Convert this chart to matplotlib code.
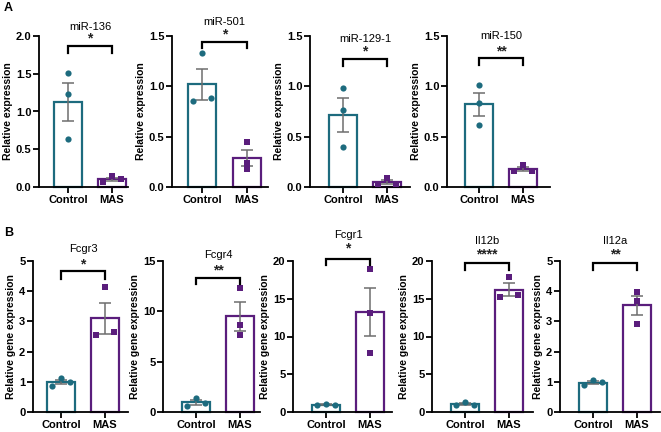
import numpy as np
import matplotlib
matplotlib.use("Agg")
import matplotlib.pyplot as plt

plt.rcParams['font.family'] = ['Liberation Sans', 'DejaVu Sans']

groups = ["Control", "MAS"]

# Panel A (miRNAs)
a_titles = ["miR-136", "miR-501", "miR-129-1", "miR-150"]
a_control = [[1.51, 1.23, 0.64], [1.33, 0.85, 0.88], [0.98, 0.76, 0.40], [1.01, 0.83, 0.62]]
a_mas = [[0.06, 0.14, 0.10], [0.45, 0.24, 0.18], [0.03, 0.09, 0.03], [0.16, 0.22, 0.16]]
a_ymax = [2.0, 1.5, 1.5, 1.5]
a_yticks = [[0.0, 0.5, 1.0, 1.5, 2.0], [0.0, 0.5, 1.0, 1.5], [0.0, 0.5, 1.0, 1.5], [0.0, 0.5, 1.0, 1.5]]
a_stars = ["*", "*", "*", "**"]

# Panel B (genes)
b_titles = ["Fcgr3", "Fcgr4", "Fcgr1", "Il12b", "Il12a"]
b_control = [[0.87, 1.13, 0.98], [0.60, 1.40, 0.93], [0.93, 1.06, 0.93], [0.88, 1.28, 0.88], [0.90, 1.05, 0.98]]
b_mas = [[4.13, 2.55, 2.64], [12.35, 8.60, 7.60], [18.9, 13.07, 7.77], [17.9, 15.2, 15.5], [3.99, 3.66, 2.93]]
b_ymax = [5, 15, 20, 20, 5]
b_yticks = [[0, 1, 2, 3, 4, 5], [0, 5, 10, 15], [0, 5, 10, 15, 20], [0, 5, 10, 15, 20], [0, 1, 2, 3, 4, 5]]
b_stars = ["*", "**", "*", "****", "**"]

TEAL = "#1d6b7e"
PURPLE = "#5a1d7c"
W, H = 661, 432

fig = plt.figure(figsize=(W / 100, H / 100), dpi=100)

# layout in pixels: (yaxis_x, axis_end_x, control_tick_x, mas_tick_x)
a_layout = [(39, 128, 68, 112), (172, 268, 202, 247), (310, 410, 343, 387), (447, 550, 479, 523)]
b_layout = [(33, 128, 61, 105), (163, 260, 196, 240), (293, 392, 326, 370), (432, 533, 465, 509), (560, 660, 593, 637)]

# bracket top / bracket legs / star / title positions (fractions of ymax)
a_br = [(0.934, 0.887, 0.985, 1.06), (0.96, 0.92, 1.01, 1.09), (0.848, 0.80, 0.895, 0.98), (0.854, 0.808, 0.90, 1.0)]
b_br = [(0.934, 0.88, 0.98, 1.08), (0.887, 0.848, 0.94, 1.04), (1.013, 0.974, 1.085, 1.172),
        (0.987, 0.94, 1.04, 1.132), (0.987, 0.94, 1.04, 1.132)]


def swarm_x(center, vals, ymax):
    """Spread points that would overlap, GraphPad style."""
    v = np.asarray(vals, dtype=float)
    order = np.argsort(v)
    xs = np.full(len(v), float(center))
    thr = 0.035 * ymax
    clusters = [[order[0]]]
    for idx in order[1:]:
        if v[idx] - v[clusters[-1][-1]] < thr:
            clusters[-1].append(idx)
        else:
            clusters.append([idx])
    off = 0.21
    for cl in clusters:
        if len(cl) == 2:
            xs[cl[0]] = center - off
            xs[cl[1]] = center + off
        elif len(cl) == 3:
            xs[cl[0]] = center - off
            xs[cl[1]] = center + off
            xs[cl[2]] = center
    return xs


def draw(ax_px, top_px, bottom_px, ctrl, mas, ymax, yticks, title, star, ylabel, br):
    L, R, c, m = ax_px
    unit = m - c
    ax = fig.add_axes([L / W, 1 - bottom_px / H, (R - L) / W, (bottom_px - top_px) / H])
    ax.set_xlim((L - c) / unit, (R - c) / unit)
    ax.set_ylim(0, ymax)
    for i, (vals, col, mk) in enumerate([(ctrl, TEAL, "o"), (mas, PURPLE, "s")]):
        v = np.array(vals)
        mean = v.mean()
        sem = v.std(ddof=1) / np.sqrt(len(v))
        ax.bar(i, mean, width=0.63, facecolor="white", edgecolor=col, linewidth=1.6, zorder=2, clip_on=False)
        ax.errorbar(i, mean, yerr=sem, color="#6e6e6e", capsize=4.5, elinewidth=1.1, capthick=1.1, zorder=3)
        xs = swarm_x(i, v, ymax)
        ax.scatter(xs, v, marker=mk, s=20, color=col, zorder=4, clip_on=False, linewidths=0)
    for sp in ["top", "right"]:
        ax.spines[sp].set_visible(False)
    for sp in ["left", "bottom"]:
        ax.spines[sp].set_linewidth(1.3)
    ax.set_xticks([0, 1])
    ax.set_xticklabels(groups, fontsize=8, fontweight="bold")
    ax.set_yticks(yticks)
    if ymax < 3:
        ax.set_yticklabels([f"{t:.1f}" for t in yticks], fontsize=8, fontweight="bold")
    else:
        ax.set_yticklabels([str(t) for t in yticks], fontsize=8, fontweight="bold")
    ax.tick_params(direction="out", length=4, width=1.3, pad=1.5)
    ax.set_ylabel(ylabel, fontsize=7.5, fontweight="bold", labelpad=2)
    btop, bleg, sy, ty = br
    ax.plot([0, 0, 1, 1], [bleg * ymax, btop * ymax, btop * ymax, bleg * ymax], color="black", lw=1.6,
            clip_on=False, zorder=5, solid_joinstyle="miter")
    ax.text(0.5, sy * ymax, star, ha="center", va="center", fontsize=10, fontweight="bold", color="#222222")
    ax.text(0.5, ty * ymax, title, ha="center", va="center", fontsize=8)
    return ax


for k in range(4):
    draw(a_layout[k], 36, 187, a_control[k], a_mas[k], a_ymax[k], a_yticks[k], a_titles[k], a_stars[k],
         "Relative expression", a_br[k])

for k in range(5):
    draw(b_layout[k], 261, 412, b_control[k], b_mas[k], b_ymax[k], b_yticks[k], b_titles[k], b_stars[k],
         "Relative gene expression", b_br[k])

fig.text(4 / W, 1 - 8 / H, "A", fontsize=9, fontweight="bold", va="center", ha="left")
fig.text(4 / W, 1 - 233 / H, "B", fontsize=9, fontweight="bold", va="center", ha="left")

fig.savefig("out.png", dpi=100, facecolor="white")
